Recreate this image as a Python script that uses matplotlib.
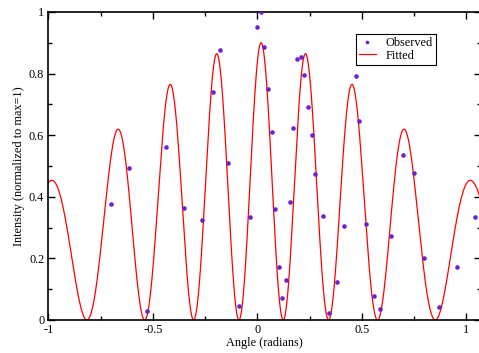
import matplotlib
matplotlib.use("Agg")
import matplotlib.pyplot as plt
import numpy as np
from matplotlib.ticker import MultipleLocator, FuncFormatter

plt.rcParams['font.family'] = ['Liberation Serif', 'DejaVu Serif']
plt.rcParams['axes.unicode_minus'] = False

# observed points (angle in radians, normalized intensity)
obs_x = [-0.700, -0.612, -0.526, -0.437, -0.350, -0.264, -0.211, -0.177, -0.141,
         -0.089, -0.036, -0.001, 0.016, 0.033, 0.050, 0.069, 0.084, 0.104, 0.120,
         0.137, 0.155, 0.172, 0.188, 0.207, 0.224, 0.242, 0.260, 0.275, 0.312,
         0.344, 0.380, 0.415, 0.470, 0.485, 0.520, 0.556, 0.589, 0.641, 0.695,
         0.748, 0.799, 0.869, 0.957, 1.043]
obs_y = [0.376, 0.495, 0.028, 0.562, 0.363, 0.325, 0.740, 0.876, 0.511,
         0.046, 0.333, 0.952, 1.000, 0.885, 0.749, 0.610, 0.359, 0.172, 0.071,
         0.130, 0.384, 0.622, 0.847, 0.854, 0.796, 0.690, 0.600, 0.473, 0.338,
         0.024, 0.122, 0.304, 0.792, 0.647, 0.312, 0.079, 0.037, 0.274, 0.536,
         0.478, 0.202, 0.041, 0.172, 0.333]

# fit parameters (double slit: cos^2 fringes under a sinc^2 envelope)
amp = 0.90
theta0 = 0.018
fringe_period = 0.2115
env_k = 1.64

def fitted(t):
    s = np.sin(t - theta0)
    return amp * np.sinc(env_k * s / np.pi) ** 2 * np.cos(np.pi * s / fringe_period) ** 2

fig = plt.figure(figsize=(4.79, 3.53), dpi=100)
# right spine sits just past the image edge, as in the original
ax = fig.add_axes([48.3 / 479, 33 / 353, (481 - 48.3) / 479, 308 / 353])

t = np.linspace(-1.0, 1.08, 2000)
ax.plot(t, fitted(t), color='#ff0000', lw=0.9, label='Fitted', zorder=2)
ax.plot(obs_x, obs_y, 'o', color='#7020c8', ms=3.3, mec='none', label='Observed', zorder=3)

ax.set_xlim(-1, 1.070)
ax.set_ylim(0, 1)
ax.xaxis.set_major_locator(MultipleLocator(0.5))
ax.xaxis.set_minor_locator(MultipleLocator(0.25))
ax.yaxis.set_major_locator(MultipleLocator(0.2))
ax.yaxis.set_minor_locator(MultipleLocator(0.1))
fmt = FuncFormatter(lambda v, p: '%g' % round(v, 3))
ax.xaxis.set_major_formatter(fmt)
ax.yaxis.set_major_formatter(fmt)
ax.tick_params(which='both', direction='in', top=True, right=True, labelsize=8.8, width=1.0, pad=3)
ax.tick_params(which='major', length=5)
ax.tick_params(which='minor', length=3)
for sp in ax.spines.values():
    sp.set_linewidth(1.2)

ax.set_xlabel('Angle (radians)', fontsize=8.8, labelpad=0.5)
ax.set_ylabel('Intensity (normalized to max=1)', fontsize=8.8, labelpad=3)

h, l = ax.get_legend_handles_labels()
leg = ax.legend([h[1], h[0]], [l[1], l[0]], loc='upper left', bbox_to_anchor=(0.710, 0.929),
                borderaxespad=0, fontsize=8.8, fancybox=False, framealpha=1, edgecolor='black',
                numpoints=1, handlelength=1.4, handletextpad=0.8, borderpad=0.25, labelspacing=0.05,
                markerscale=0.8)
leg.get_frame().set_linewidth(0.8)

fig.savefig('out.png', dpi=100)
